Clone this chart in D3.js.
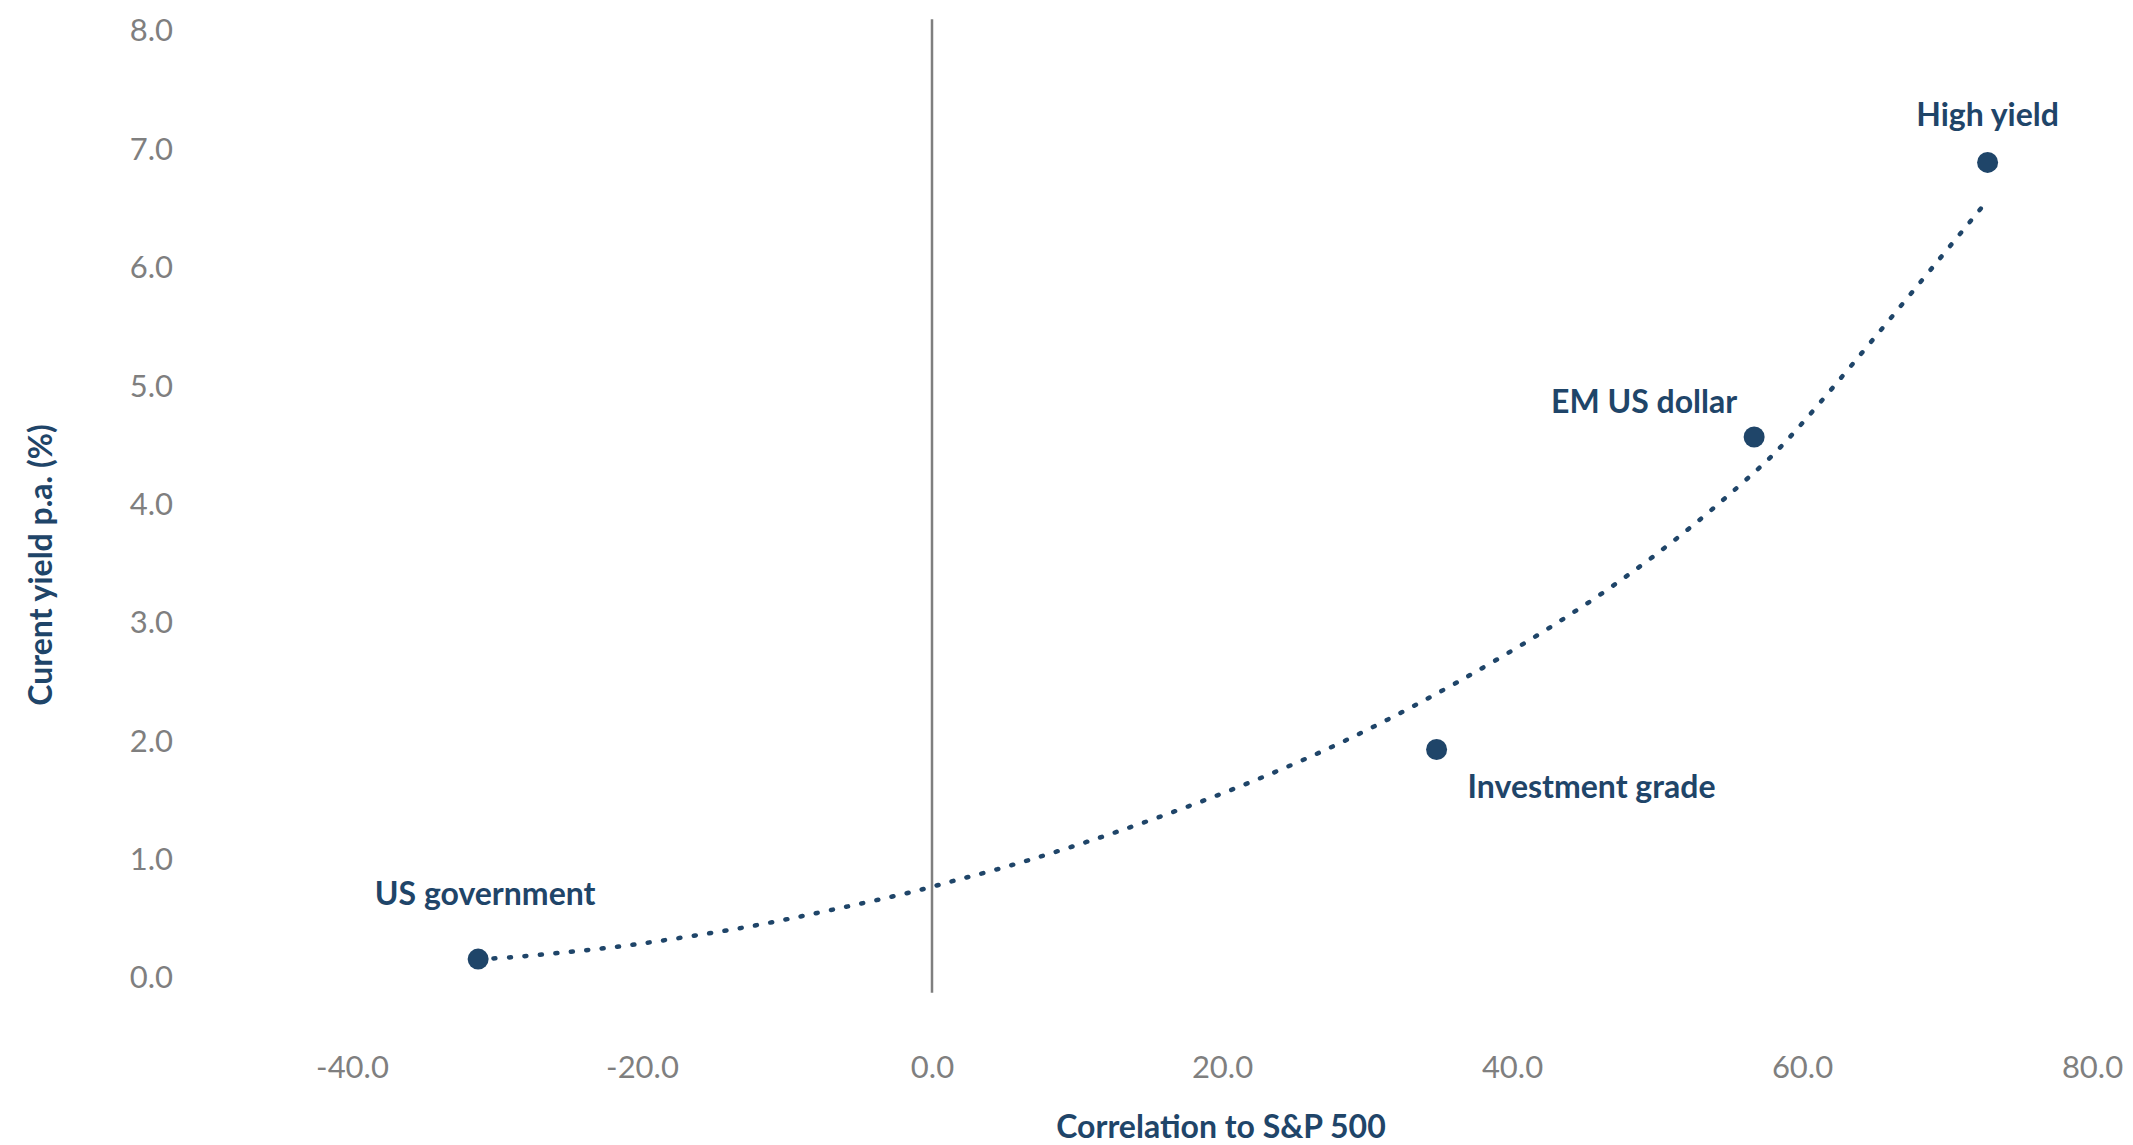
<!DOCTYPE html>
<html>
<head>
<meta charset="utf-8">
<script src="https://cdn.jsdelivr.net/npm/d3@7"></script>
<style>
  html, body { margin: 0; padding: 0; background: #ffffff; }
  svg { display: block; }
  text { font-family: Lato, "Open Sans", sans-serif; }
</style>
</head>
<body>
<div id="chart"></div>
<script>
// Bond sectors: correlation to the S&P 500 vs current yield
const sectors = ["US government", "Investment grade", "EM US dollar", "High yield"];
const correlation = [-31.3, 34.8, 56.7, 72.8];
const yieldPct = [0.16, 1.93, 4.57, 6.89];

const trendX = [-31.3, -29.6, -25.2, -20.9, -16.5, -12.1, -7.8, -3.5, -0.3, 1.7, 4.0, 9.2, 15.4, 21.6, 27.7, 33.5, 39.2, 45.8, 52.0, 56.9, 59.4, 72.6];
const trendY = [0.16, 0.167, 0.217, 0.273, 0.355, 0.442, 0.552, 0.665, 0.758, 0.83, 0.898, 1.087, 1.343, 1.63, 1.95, 2.31, 2.70, 3.20, 3.76, 4.29, 4.57, 6.54];

// Axis ticks
const xTicks = [-40, -20, 0, 20, 40, 60, 80];
const yTicks = [0, 1, 2, 3, 4, 5, 6, 7, 8];

const W = 2133, H = 1145;
const NAVY = "#1f4569";
const GREY = "#7f7f7f";
const fmt = d => d.toFixed(1);   // plain hyphen for negatives

const svg = d3.select("#chart").append("svg")
  .attr("width", W).attr("height", H);

const x = d3.scaleLinear().domain([-40, 80]).range([352, 2092]);
const y = d3.scaleLinear().domain([0, 8]).range([978, 31]);

// Y axis (labels only)
const yAxis = svg.append("g")
  .attr("transform", "translate(173,0)")
  .call(d3.axisLeft(y).tickValues(yTicks).tickFormat(fmt).tickSize(0).tickPadding(0));
yAxis.select(".domain").remove();
yAxis.selectAll("text")
  .attr("fill", GREY)
  .style("font-size", "31px")
  .style("font-family", "Lato");

// X axis (labels only)
const xAxis = svg.append("g")
  .attr("transform", "translate(0,1078)")
  .call(d3.axisBottom(x).tickValues(xTicks).tickFormat(fmt).tickSize(0).tickPadding(0));
xAxis.select(".domain").remove();
xAxis.selectAll("text")
  .attr("y", 0).attr("dy", null)
  .attr("fill", GREY)
  .style("font-size", "31px")
  .style("font-family", "Lato");

// Vertical zero line
const zeroSpan = [-0.125, 8.1];
svg.append("line")
  .attr("x1", x(0)).attr("x2", x(0))
  .attr("y1", y(zeroSpan[1])).attr("y2", y(zeroSpan[0]))
  .attr("stroke", GREY)
  .attr("stroke-width", 2.5);

// Trend line (dotted)
const trend = trendX.map((v, i) => [v, trendY[i]]);
svg.append("path")
  .datum(trend)
  .attr("fill", "none")
  .attr("stroke", NAVY)
  .attr("stroke-width", 4.5)
  .attr("stroke-linecap", "round")
  .attr("stroke-dasharray", "2 13.5")
  .attr("d", d3.line().x(d => x(d[0])).y(d => y(d[1])).curve(d3.curveBasis));

// Sector points
const pts = sectors.map((s, i) => ({ name: s, cx: correlation[i], cy: yieldPct[i] }));
svg.append("g").selectAll("circle")
  .data(pts).join("circle")
  .attr("cx", d => x(d.cx))
  .attr("cy", d => y(d.cy))
  .attr("r", 10.5)
  .attr("fill", NAVY);

// Sector labels
const labelPos = {
  "US government":    { dx: 7,   dy: -54, anchor: "middle" },
  "Investment grade": { dx: 31,  dy: 48,  anchor: "start" },
  "EM US dollar":     { dx: -17, dy: -24, anchor: "end" },
  "High yield":       { dx: 0,   dy: -36, anchor: "middle" }
};
svg.append("g").selectAll("text")
  .data(pts).join("text")
  .attr("x", d => x(d.cx) + labelPos[d.name].dx)
  .attr("y", d => y(d.cy) + labelPos[d.name].dy)
  .attr("text-anchor", d => labelPos[d.name].anchor)
  .attr("fill", NAVY)
  .style("font-size", "32px")
  .style("font-weight", "700")
  .text(d => d.name);

// Axis titles
svg.append("text")
  .attr("x", 1221).attr("y", 1138)
  .attr("text-anchor", "middle")
  .attr("fill", NAVY)
  .style("font-size", "32px")
  .style("font-weight", "700")
  .text("Correlation to S&P 500");

svg.append("text")
  .attr("transform", "translate(52,565) rotate(-90)")
  .attr("text-anchor", "middle")
  .attr("fill", NAVY)
  .style("font-size", "32px")
  .style("font-weight", "700")
  .text("Curent yield p.a. (%)");
</script>
</body>
</html>
